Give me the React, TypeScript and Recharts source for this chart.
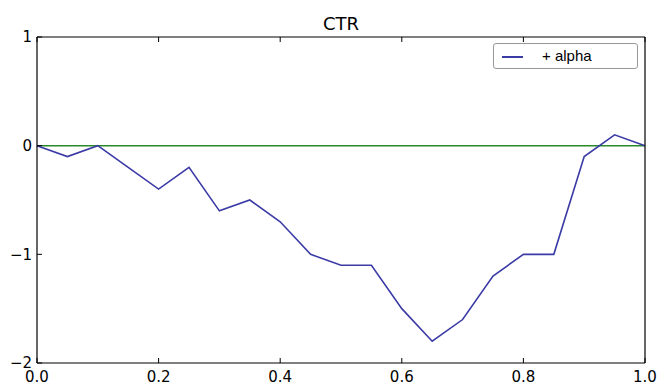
import { Legend, Line, LineChart, ReferenceLine, XAxis, YAxis } from "recharts";

const xs = [0, 0.05, 0.1, 0.15, 0.2, 0.25, 0.3, 0.35, 0.4, 0.45, 0.5, 0.55, 0.6, 0.65, 0.7, 0.75, 0.8, 0.85, 0.9, 0.95, 1.0];
const alpha = [0, -0.1, 0, -0.2, -0.4, -0.2, -0.6, -0.5, -0.7, -1.0, -1.1, -1.1, -1.5, -1.8, -1.6, -1.2, -1.0, -1.0, -0.1, 0.1, 0];
const xTicks = [0, 0.2, 0.4, 0.6, 0.8, 1.0];
const yTicks = [-2, -1, 0, 1];

const data = xs.map((x, i) => ({ x, alpha: alpha[i] }));

const FONT = "'DejaVu Sans', sans-serif";
const TICK = 5;

const fmtY = (v: number) => (v < 0 ? "\u2212" + Math.abs(v) : String(v));

function BottomTick(props: any) {
  const { x, y, payload } = props;
  return (
    <g>
      <line x1={x} y1={y} x2={x} y2={y - TICK} stroke="#000" strokeWidth={1} />
      <text x={x} y={y + 8} dy="0.71em" textAnchor="middle" fontFamily={FONT} fontSize={15} fill="#000">
        {payload.value.toFixed(1)}
      </text>
    </g>
  );
}

function TopTick(props: any) {
  const { x, y } = props;
  return <line x1={x} y1={y} x2={x} y2={y + TICK} stroke="#000" strokeWidth={1} />;
}

function LeftTick(props: any) {
  const { x, y, payload } = props;
  return (
    <g>
      <line x1={x} y1={y} x2={x + TICK} y2={y} stroke="#000" strokeWidth={1} />
      <text x={x - 5} y={y} dy="0.35em" textAnchor="end" fontFamily={FONT} fontSize={15} fill="#000">
        {fmtY(payload.value)}
      </text>
    </g>
  );
}

function RightTick(props: any) {
  const { x, y } = props;
  return <line x1={x} y1={y} x2={x - TICK} y2={y} stroke="#000" strokeWidth={1} />;
}

function LegendBox() {
  return (
    <div
      style={{
        width: 143,
        height: 24,
        border: "1px solid #999",
        borderRadius: 3,
        background: "#fff",
        position: "relative",
        boxSizing: "content-box",
      }}
    >
      <div style={{ position: "absolute", left: 8, top: 12, width: 21, height: 0, borderTop: "2px solid #3b3ba6" }} />
      <span
        style={{
          position: "absolute",
          left: 48,
          top: 3,
          fontFamily: "'Liberation Sans', Arial, sans-serif",
          fontSize: 15,
          lineHeight: "18px",
          color: "#000",
        }}
      >
        + alpha
      </span>
    </div>
  );
}

export default function App() {
  return (
    <div style={{ position: "absolute", left: 0, top: 0, width: 658, height: 385, background: "#fff" }}>
      <div
        style={{
          position: "absolute",
          left: 37,
          width: 608,
          top: 15,
          textAlign: "center",
          fontFamily: FONT,
          fontSize: 18,
          lineHeight: 1,
          color: "#000",
        }}
      >
        CTR
      </div>
      <LineChart width={658} height={385} data={data} margin={{ top: 0, right: 0, bottom: 0, left: 0 }}>
        <XAxis
          xAxisId="bottom"
          dataKey="x"
          type="number"
          domain={[0, 1]}
          ticks={xTicks}
          interval={0}
          height={22}
          tickSize={0}
          tickMargin={0}
          tickLine={false}
          axisLine={{ stroke: "#000", strokeWidth: 1.2 }}
          tick={<BottomTick />}
        />
        <XAxis
          xAxisId="top"
          orientation="top"
          dataKey="x"
          type="number"
          domain={[0, 1]}
          ticks={xTicks}
          interval={0}
          height={37}
          tickSize={0}
          tickMargin={0}
          tickLine={false}
          axisLine={{ stroke: "#000", strokeWidth: 1.2 }}
          tick={<TopTick />}
        />
        <YAxis
          yAxisId="left"
          type="number"
          domain={[-2, 1]}
          ticks={yTicks}
          interval={0}
          width={37}
          tickSize={0}
          tickMargin={0}
          tickLine={false}
          axisLine={{ stroke: "#000", strokeWidth: 1.2 }}
          tick={<LeftTick />}
        />
        <YAxis
          yAxisId="right"
          orientation="right"
          type="number"
          domain={[-2, 1]}
          ticks={yTicks}
          interval={0}
          width={13}
          tickSize={0}
          tickMargin={0}
          tickLine={false}
          axisLine={{ stroke: "#000", strokeWidth: 1.2 }}
          tick={<RightTick />}
        />
        <ReferenceLine xAxisId="bottom" yAxisId="left" y={0} stroke="#2a8a2a" strokeWidth={1.5} />
        <Line
          xAxisId="bottom"
          yAxisId="left"
          dataKey="alpha"
          name="+ alpha"
          stroke="#3b3ba6"
          strokeWidth={1.6}
          dot={false}
          isAnimationActive={false}
        />
        <Legend
          layout="horizontal"
          verticalAlign="middle"
          align="center"
          content={() => <LegendBox />}
          wrapperStyle={{ position: "absolute", left: 493, top: 43, width: 145, height: 26 }}
        />
      </LineChart>
    </div>
  );
}
